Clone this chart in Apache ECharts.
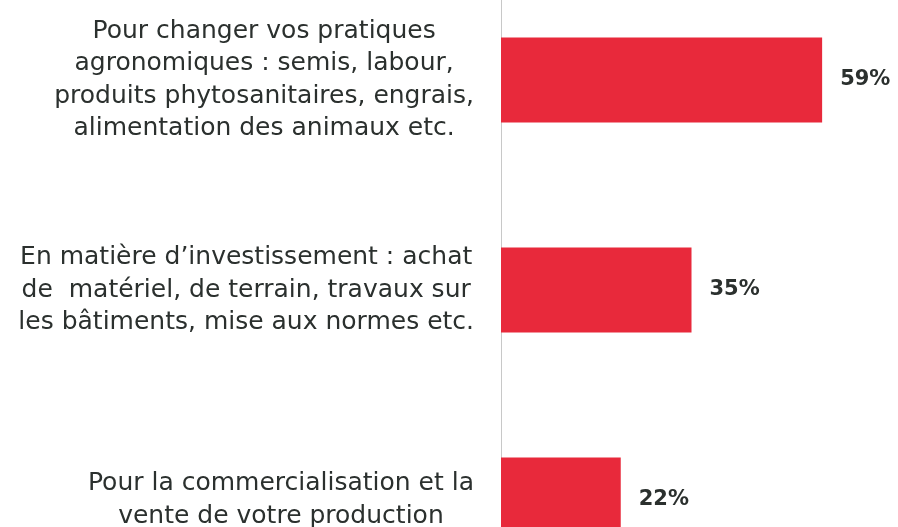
<!DOCTYPE html>
<html>
<head>
<meta charset="utf-8">
<script src="https://cdn.jsdelivr.net/npm/echarts@6/dist/echarts.min.js"></script>
<style>
  html, body { margin: 0; padding: 0; background: #fff; }
  #chart { width: 898px; height: 527px; }
</style>
</head>
<body>
<div id="chart"></div>
<script>
const categories = [
  'Pour changer vos pratiques\nagronomiques : semis, labour,\nproduits phytosanitaires, engrais,\nalimentation des animaux etc.',
  'En matière d’investissement : achat\nde  matériel, de terrain, travaux sur\nles bâtiments, mise aux normes etc.',
  'Pour la commercialisation et la\nvente de votre production'
];
const values = [59, 35, 22];

const chart = echarts.init(document.getElementById('chart'));

chart.setOption({
  animation: false,
  grid: {
    left: 501,
    right: 16,
    top: -25,
    bottom: -78,
    outerBoundsMode: 'none',
    containLabel: false
  },
  xAxis: {
    type: 'value',
    min: 0,
    max: 70,
    show: false
  },
  yAxis: {
    type: 'category',
    data: categories,
    inverse: true,
    axisLine: { lineStyle: { color: '#c8c8c8', width: 1 } },
    axisTick: { length: 6, lineStyle: { color: '#c8c8c8' } },
    axisLabel: {
      align: 'right',
      margin: 27,
      formatter: function (value) {
        return value.split('\n').map(function (l) { return '{t|' + l + '}'; }).join('\n');
      },
      rich: {
        t: {
          align: 'center',
          color: '#2b302e',
          fontFamily: 'DejaVu Sans',
          fontSize: 25,
          lineHeight: 32.5
        }
      }
    }
  },
  series: [
    {
      type: 'bar',
      data: values,
      barWidth: 85,
      itemStyle: { color: '#e8293b' },
      label: {
        show: true,
        position: 'right',
        distance: 18,
        formatter: '{c}%',
        color: '#2b302e',
        fontFamily: 'DejaVu Sans',
        fontWeight: 'bold',
        fontSize: 21
      }
    }
  ]
});
</script>
</body>
</html>
